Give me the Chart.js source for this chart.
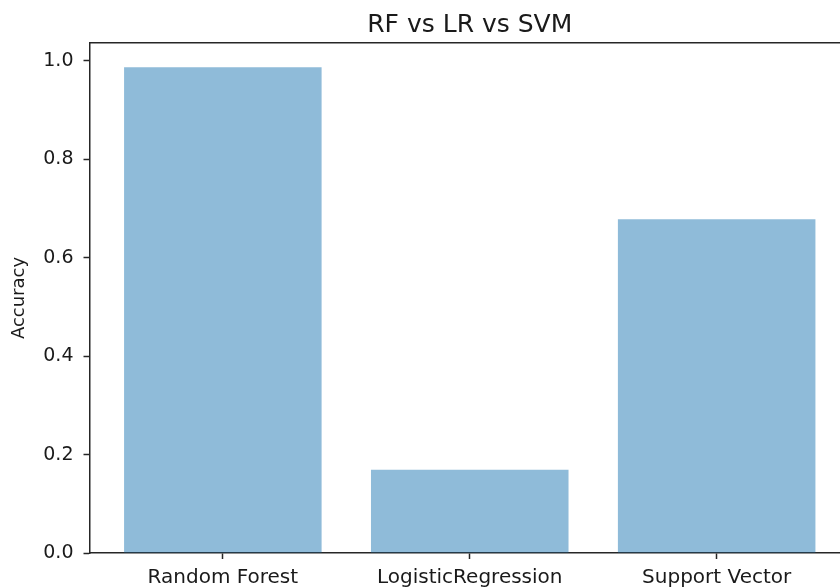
<!DOCTYPE html>
<html>
<head>
<meta charset="utf-8">
<script src="https://cdn.jsdelivr.net/npm/chart.js@4/dist/chart.umd.min.js"></script>
<style>
  html, body { margin: 0; padding: 0; background: #fff; overflow: hidden; }
  #wrap { position: relative; width: 850px; height: 587px; }
</style>
</head>
<body>
<div id="wrap"><canvas id="c"></canvas></div>
<script>
const categories = ["Random Forest", "LogisticRegression", "Support Vector"];
const accuracy = [0.987, 0.169, 0.678];
const yTickValues = [0.0, 0.2, 0.4, 0.6, 0.8, 1.0];
const chartTitle = "RF vs LR vs SVM";
const yAxisTitle = "Accuracy";

const FONT = "'DejaVu Sans', sans-serif";
const INK = "#1a1a1a";
const SPINE = "#262626";

const points = accuracy.map((v, i) => ({ x: i, y: v }));
const xMin = -0.54, xMax = categories.length - 1 + 0.54;
const yMax = Math.max(...accuracy) * 1.05;

new Chart(document.getElementById("c"), {
  type: "bar",
  data: {
    datasets: [{
      data: points,
      backgroundColor: "rgba(31,119,180,0.5)",
      borderWidth: 0,
      categoryPercentage: 1.0,
      barPercentage: 0.8
    }]
  },
  options: {
    responsive: true,
    maintainAspectRatio: false,
    animation: false,
    events: [],
    layout: { padding: 0 },
    plugins: {
      legend: { display: false },
      tooltip: { enabled: false },
      title: {
        display: true,
        fullSize: false,
        text: chartTitle,
        color: INK,
        font: { family: FONT, size: 25, weight: "normal" },
        padding: { top: 10, bottom: 3 }
      }
    },
    scales: {
      x: {
        type: "linear",
        position: "bottom",
        offset: false,
        min: xMin,
        max: xMax,
        afterBuildTicks: s => { s.ticks = categories.map((_, i) => ({ value: i })); },
        afterFit: s => { s.height = 34; },
        ticks: {
          color: INK,
          font: { family: FONT, size: 20 },
          padding: 7,
          maxRotation: 0,
          autoSkip: false,
          callback: v => categories[v]
        },
        grid: { offset: false, drawOnChartArea: false, drawTicks: true, tickLength: 6, tickColor: SPINE, tickWidth: 1.5 },
        border: { display: true, color: SPINE, width: 1.5 }
      },
      xTop: {
        type: "linear",
        position: "top",
        offset: false,
        min: xMin,
        max: xMax,
        afterFit: s => { s.height = 0; },
        ticks: { display: false },
        grid: { display: false, offset: false },
        border: { display: true, color: SPINE, width: 1.5 }
      },
      y: {
        type: "linear",
        position: "left",
        min: 0,
        max: yMax,
        afterBuildTicks: s => { s.ticks = yTickValues.map(v => ({ value: v })); },
        afterFit: s => { s.width = 89.5; },
        ticks: {
          color: INK,
          font: { family: FONT, size: 19 },
          padding: 10,
          callback: v => Number(v).toFixed(1)
        },
        title: {
          display: true,
          text: yAxisTitle,
          color: INK,
          font: { family: FONT, size: 18 },
          padding: { top: 9, bottom: 0 }
        },
        grid: { drawOnChartArea: false, drawTicks: true, tickLength: 6, tickColor: SPINE, tickWidth: 1.5 },
        border: { display: true, color: SPINE, width: 1.5 }
      }
    }
  }
});
</script>
</body>
</html>
